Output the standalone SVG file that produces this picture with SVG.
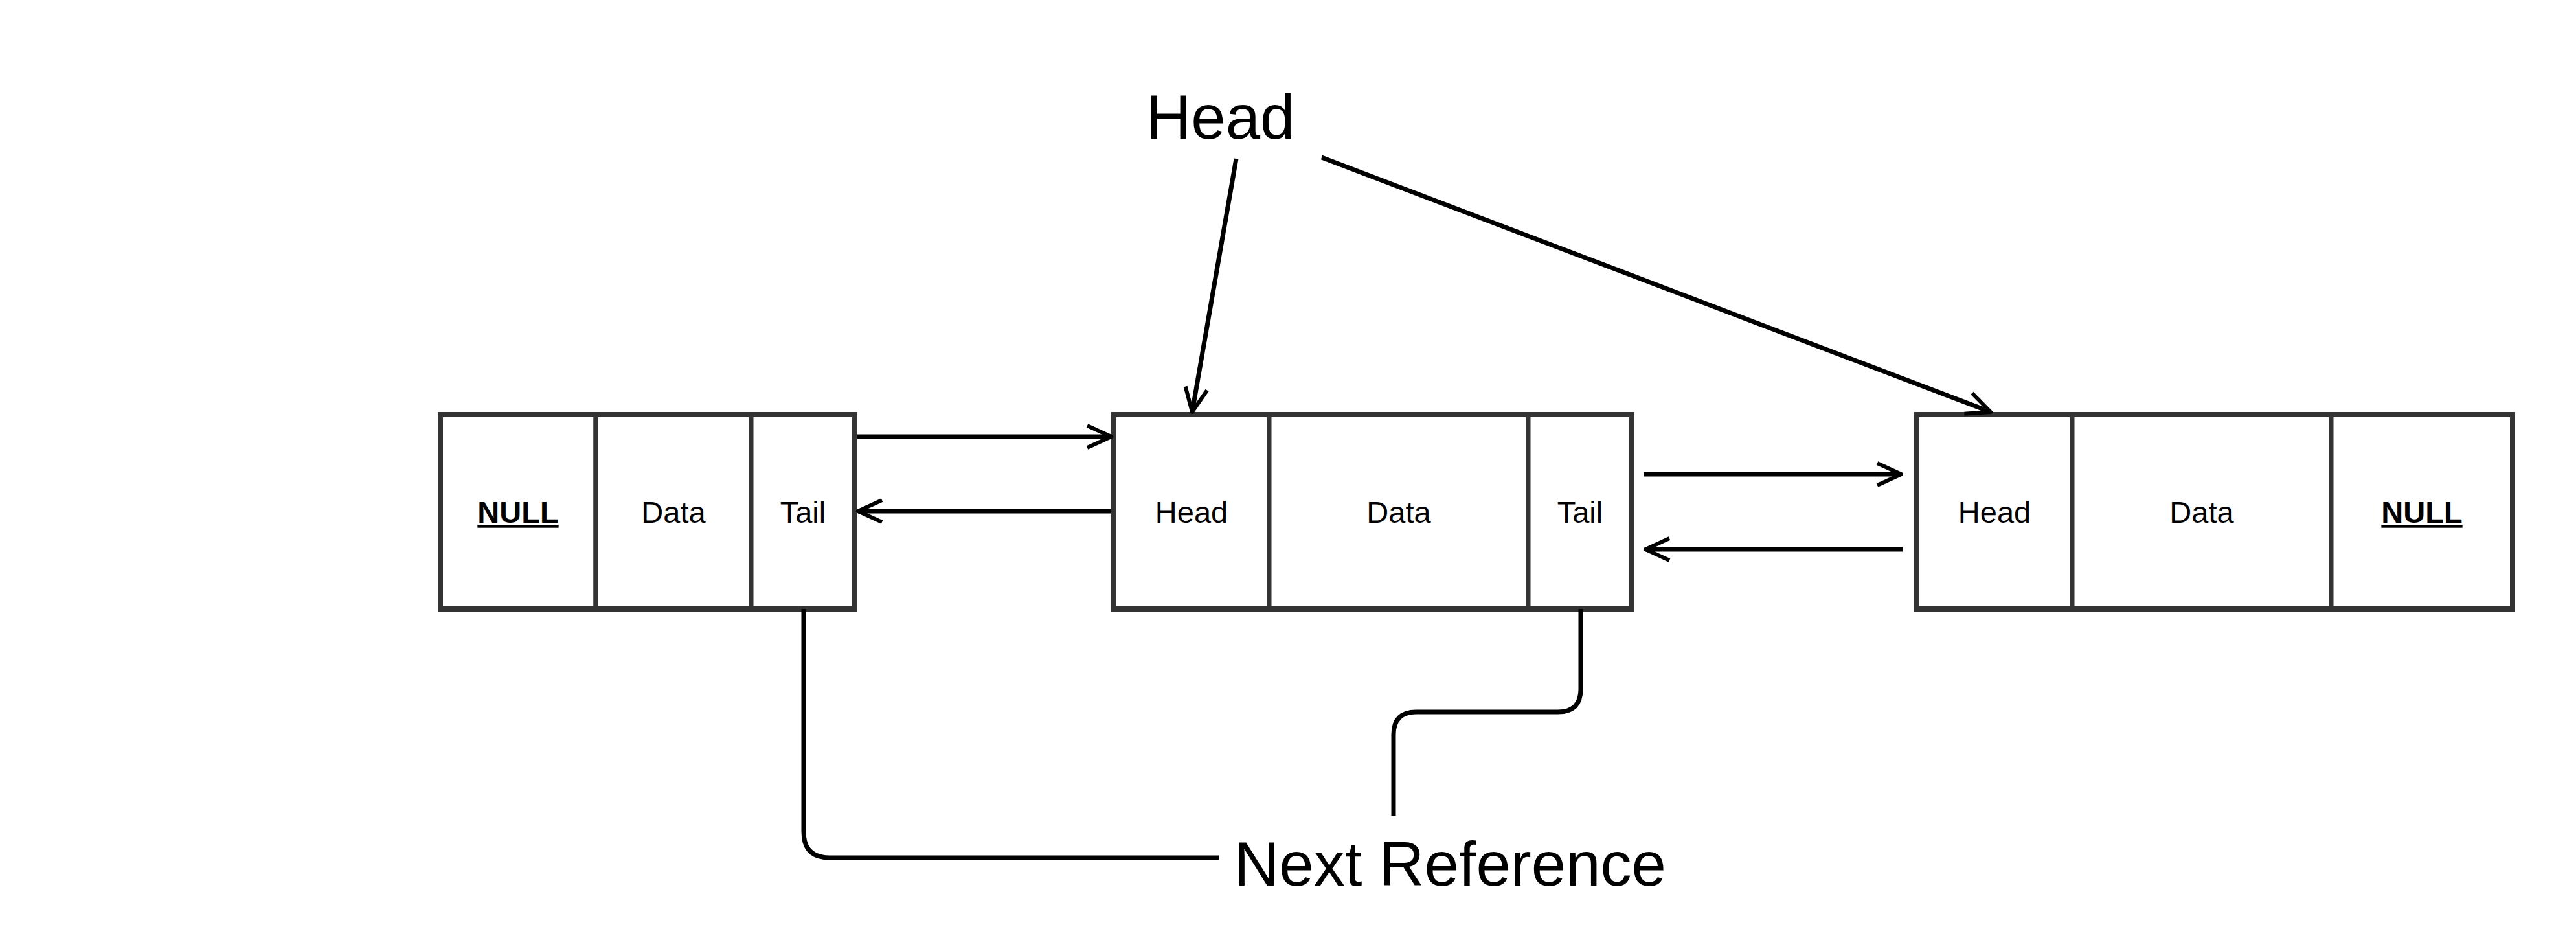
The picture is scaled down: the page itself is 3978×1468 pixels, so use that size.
<svg xmlns="http://www.w3.org/2000/svg" width="3978" height="1468" viewBox="0 0 3978 1468">
<style>
.cell{fill:#ffffff;stroke:#333333;stroke-width:7}
.outer{fill:none;stroke:#333333;stroke-width:8}
.t{font-family:"Liberation Sans",Arial,sans-serif;font-size:47px;fill:#000000;text-anchor:middle}
.null{font-weight:bold;text-decoration:underline}
.lbl{font-family:"Liberation Sans",Arial,sans-serif;font-size:96px;fill:#000000}
.c{fill:none;stroke:#000000;stroke-width:7;stroke-linecap:butt}
.a{marker-end:url(#arr)}
</style>
<defs>
<marker id="arr" markerUnits="userSpaceOnUse" markerWidth="60" markerHeight="60" viewBox="-50 -30 60 60" refX="0" refY="0" orient="auto">
<path d="M-37,-17 L0,0 L-37,17" fill="none" stroke="#000000" stroke-width="6" stroke-linejoin="round"/>
</marker>
</defs>
<rect width="3978" height="1468" fill="#ffffff"/>
<g id="node1">
<rect class="cell" x="680" y="640" width="240" height="300"/>
<rect class="cell" x="920" y="640" width="240" height="300"/>
<rect class="cell" x="1160" y="640" width="160" height="300"/>
<rect class="outer" x="680" y="640" width="640" height="300"/>
<text class="t null" x="800" y="807">NULL</text>
<text class="t" x="1040" y="807">Data</text>
<text class="t" x="1240" y="807">Tail</text>
</g>
<g id="node2">
<rect class="cell" x="1720" y="640" width="240" height="300"/>
<rect class="cell" x="1960" y="640" width="400" height="300"/>
<rect class="cell" x="2360" y="640" width="160" height="300"/>
<rect class="outer" x="1720" y="640" width="800" height="300"/>
<text class="t" x="1840" y="807">Head</text>
<text class="t" x="2160" y="807">Data</text>
<text class="t" x="2440" y="807">Tail</text>
</g>
<g id="node3">
<rect class="cell" x="2960" y="640" width="240" height="300"/>
<rect class="cell" x="3200" y="640" width="400" height="300"/>
<rect class="cell" x="3600" y="640" width="280" height="300"/>
<rect class="outer" x="2960" y="640" width="920" height="300"/>
<text class="t" x="3080" y="807">Head</text>
<text class="t" x="3400" y="807">Data</text>
<text class="t null" x="3740" y="807">NULL</text>
</g>
<g id="label-head">
<text class="lbl" x="1770" y="214">Head</text>
</g>
<g id="label-next">
<text class="lbl" x="1906" y="1367">Next Reference</text>
</g>
<g id="connectors">
<line class="c a" x1="1324" y1="674" x2="1716" y2="674"/>
<line class="c a" x1="1716" y1="789" x2="1325" y2="789"/>
<line class="c a" x1="2538" y1="732" x2="2936" y2="732"/>
<line class="c a" x1="2938" y1="848" x2="2541" y2="848"/>
<line class="c a" x1="1909" y1="245" x2="1841" y2="636"/>
<line class="c a" x1="2041" y1="243" x2="3074" y2="636"/>
<path class="c" d="M1241,940 L1241,1284 Q1241,1324 1281,1324 L1882,1324"/>
<path class="c" d="M2441,940 L2441,1064 Q2441,1099 2406,1099 L2187,1099 Q2152,1099 2152,1134 L2152,1259"/>
</g>
</svg>
